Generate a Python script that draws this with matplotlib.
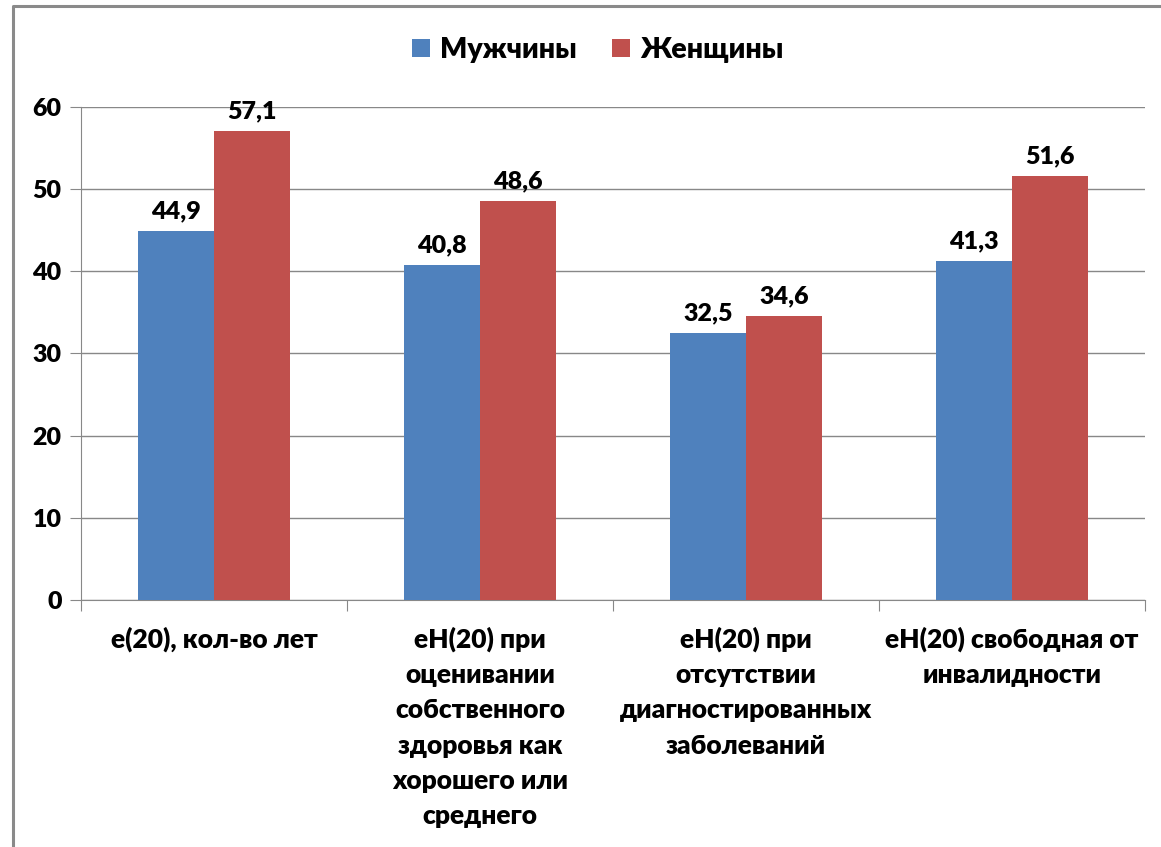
import matplotlib.pyplot as plt
import numpy as np
from matplotlib.lines import Line2D

categories = [
    'e(20), кол-во лет',
    'eН(20) при\nоценивании\nсобственного\nздоровья как\nхорошего или\nсреднего',
    'eН(20) при\nотсутствии\nдиагностированных\nзаболеваний',
    'eН(20) свободная от\nинвалидности',
]
men = [44.9, 40.8, 32.5, 41.3]
women = [57.1, 48.6, 34.6, 51.6]
series_names = ['Мужчины', 'Женщины']
yticks = [0, 10, 20, 30, 40, 50, 60]

plt.rcParams['font.family'] = ['Lato', 'DejaVu Sans']
plt.rcParams['font.weight'] = 'heavy'
plt.rcParams['font.size'] = 18

fig = plt.figure(figsize=(11.61, 8.47), dpi=100)
ax = fig.add_axes([0.0698, 0.2916, 0.9164, 0.5821])

x = np.arange(len(categories))
w = 0.286
b1 = ax.bar(x - w / 2, men, w, color='#4F81BD', label=series_names[0], zorder=3)
b2 = ax.bar(x + w / 2, women, w, color='#C0504D', label=series_names[1], zorder=3)

# value labels over each bar
for bars, vals in [(b1, men), (b2, women)]:
    for rect, v in zip(bars, vals):
        ax.annotate(f'{v:.1f}'.replace('.', ','),
                    (rect.get_x() + rect.get_width() / 2, v),
                    xytext=(0, 6), textcoords='offset points',
                    ha='center', va='bottom')

ax.set_xlim(-0.5, len(categories) - 0.5)
ax.set_ylim(0, 60)
ax.set_yticks(yticks)
ax.yaxis.grid(True, color='#888888', linewidth=1, zorder=0)

ax.set_xticks(np.arange(len(categories) + 1) - 0.5)
ax.set_xticklabels([])
ax.set_xticks(x, minor=True)
ax.set_xticklabels(categories, minor=True, linespacing=1.56, va='top', fontsize=19)
ax.tick_params(axis='x', which='minor', length=0, pad=19)
ax.tick_params(axis='x', which='major', length=8, color='#888888')
ax.tick_params(axis='y', length=8, color='#888888', pad=6)

for side in ['top', 'right']:
    ax.spines[side].set_visible(False)
ax.spines['left'].set_color('#888888')
ax.spines['bottom'].set_color('#888888')

fig.legend(loc='center', bbox_to_anchor=(0.515, 0.941), ncol=2, frameon=False,
           handlelength=0.63, handleheight=0.63, handletextpad=0.35, columnspacing=1.23,
           prop={'weight': 'heavy', 'size': 20.5})

# outer frame of the chart area
fig.add_artist(Line2D([13 / 1161, 13 / 1161, 1.0], [0.0, 1 - 6 / 847, 1 - 6 / 847],
                      transform=fig.transFigure, color='#8a8a8a', linewidth=2.2))

fig.savefig('out.png', dpi=100)
